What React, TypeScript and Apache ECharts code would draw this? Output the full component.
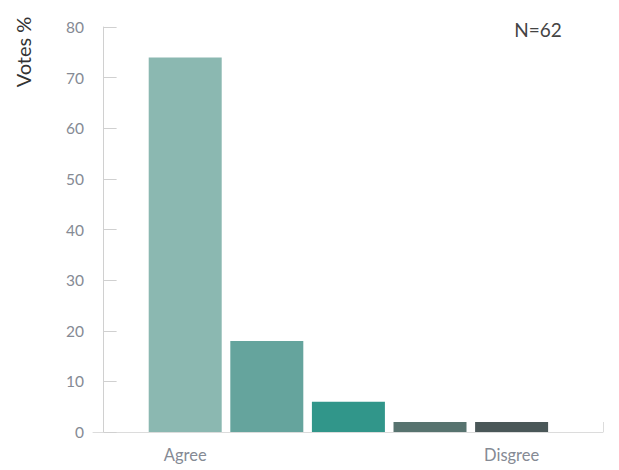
import React, { useEffect, useRef } from "react";
import * as echarts from "echarts";

const categories = ["Agree", "", "", "", "Disgree"];
const positions = [1, 2, 3, 4, 5];
const values = [74, 18, 6, 2, 2];
const colors = ["#8bb8b1", "#65a49d", "#31968a", "#57736f", "#4a5758"];
const yTicks = { min: 0, max: 80, interval: 10 };
const xMin = -0.13;
const xMax = 6.12;

export default function App() {
  const ref = useRef<HTMLDivElement>(null);
  useEffect(() => {
    document.body.style.margin = "0";
    const chart = echarts.init(ref.current!, null, { renderer: "svg" });
    const font = "Lato, 'Open Sans', sans-serif";
    chart.setOption({
      animation: false,
      grid: { left: 93, right: 16, top: 27, bottom: 38 },
      xAxis: {
        type: "value",
        min: xMin,
        max: xMax,
        splitLine: { show: false },
        axisLine: { show: true, lineStyle: { color: "#dcdcdc", width: 1 } },
        axisTick: {
          show: true,
          inside: true,
          length: 10,
          customValues: [xMax],
          lineStyle: { color: "#dcdcdc" },
        },
        axisLabel: {
          customValues: [1, 5],
          formatter: (v: number) => categories[Math.round(v) - 1] ?? "",
          color: "#858a94",
          fontSize: 16.5,
          fontFamily: font,
          margin: 14,
        },
      },
      yAxis: {
        type: "value",
        min: yTicks.min,
        max: yTicks.max,
        interval: yTicks.interval,
        splitLine: { show: false },
        axisLine: { show: true, lineStyle: { color: "#d0d0d0", width: 1 } },
        axisTick: { show: true, inside: true, length: 13, lineStyle: { color: "#d0d0d0" } },
        axisLabel: { color: "#858a94", fontSize: 15.5, fontFamily: font, margin: 9, padding: [4, 0, 0, 0] },
      },
      series: [
        {
          type: "bar",
          barWidth: 73,
          data: positions.map((p, i) => ({
            value: [p, values[i]],
            itemStyle: { color: colors[i] },
          })),
        },
      ],
      graphic: [
        {
          type: "text",
          x: 23,
          y: 52,
          rotation: Math.PI / 2,
          style: {
            text: "Votes %",
            fill: "#333",
            fontSize: 20,
            fontFamily: font,
            align: "center",
            verticalAlign: "middle",
          },
        },
        {
          type: "text",
          x: 538,
          y: 29,
          style: {
            text: "N=62",
            fill: "#444",
            fontSize: 19,
            fontFamily: font,
            align: "center",
            verticalAlign: "middle",
          },
        },
      ],
    });
    return () => chart.dispose();
  }, []);
  return <div ref={ref} style={{ width: 619, height: 470 }} />;
}
